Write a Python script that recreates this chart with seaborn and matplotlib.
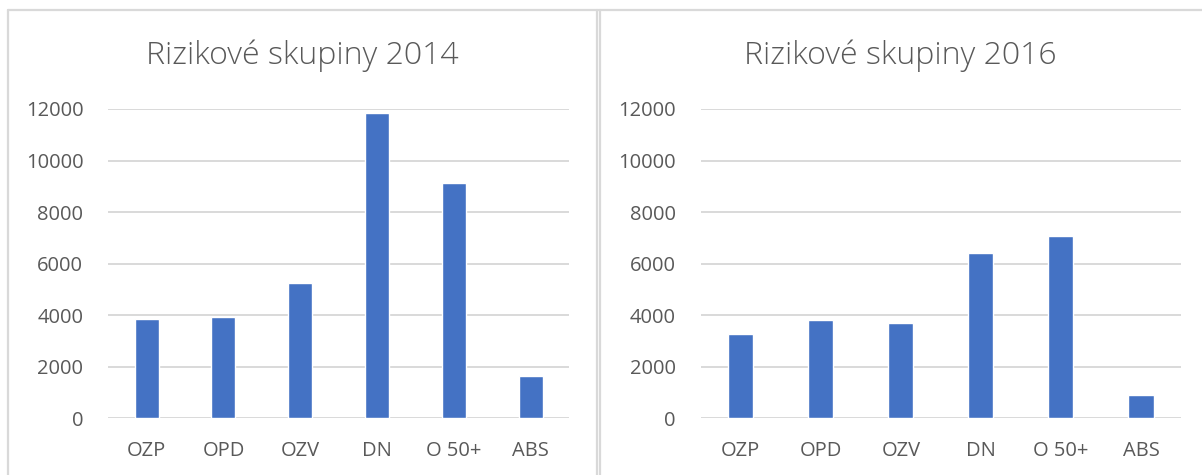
import pandas as pd
import matplotlib.pyplot as plt
import seaborn as sns
from matplotlib.lines import Line2D

# ----------------------------------------------------
# data
# ----------------------------------------------------
skupiny = ['OZP', 'OPD', 'OZV', 'DN', 'O 50+', 'ABS']
hodnoty_2014 = [3850, 3920, 5260, 11830, 9140, 1630]
hodnoty_2016 = [3280, 3830, 3680, 6410, 7080, 910]
y_ticks = [0, 2000, 4000, 6000, 8000, 10000, 12000]

BAR = '#4472C4'
TEXT = '#595959'
GRID = '#D9D9D9'

sns.set_style('white')
plt.rcParams['font.family'] = ['Open Sans', 'DejaVu Sans']

fig = plt.figure(figsize=(12.02, 4.75), dpi=100)

# chart frames (Excel style)
frame = dict(color=GRID, lw=1.6, transform=fig.transFigure)
fig.add_artist(Line2D([7.5 / 1202, 1202 / 1202], [1 - 10 / 475] * 2, **frame))
fig.add_artist(Line2D([7.5 / 1202] * 2, [0, 1 - 10 / 475], **frame))
fig.add_artist(Line2D([597 / 1202] * 2, [0, 1 - 10 / 475], **frame))
fig.add_artist(Line2D([600 / 1202] * 2, [0, 1 - 10 / 475], **frame))

panels = [
    ([108.3 / 1202, 0.1194, 460.7 / 1202, 0.6512], hodnoty_2014, 'Rizikové skupiny 2014', 302.5),
    ([700.7 / 1202, 0.1194, 480.3 / 1202, 0.6512], hodnoty_2016, 'Rizikové skupiny 2016', 900.5),
]

for rect, vals, title, title_x in panels:
    ax = fig.add_axes(rect)
    df = pd.DataFrame({'skupina': skupiny, 'pocet': vals})
    sns.barplot(data=df, x='skupina', y='pocet', color=BAR, saturation=1,
                width=0.313, ax=ax, zorder=3)
    ax.set_ylim(0, 12000)
    ax.set_yticks(y_ticks)
    ax.set_xlim(-0.5, len(skupiny) - 0.5)
    ax.set_xlabel('')
    ax.set_ylabel('')
    for y in y_ticks:
        ax.axhline(y, color=GRID, lw=1.4, zorder=1)
    for s in ax.spines.values():
        s.set_visible(False)
    ax.tick_params(axis='y', length=0, pad=18, labelsize=14.5, labelcolor=TEXT)
    ax.tick_params(axis='x', length=0, pad=16, labelsize=14.5, labelcolor=TEXT)
    fig.text(title_x / 1202, 1 - 56 / 475, title, ha='center', va='center',
             fontsize=23, color=TEXT, fontweight='light')

fig.savefig('out.png', dpi=100)
